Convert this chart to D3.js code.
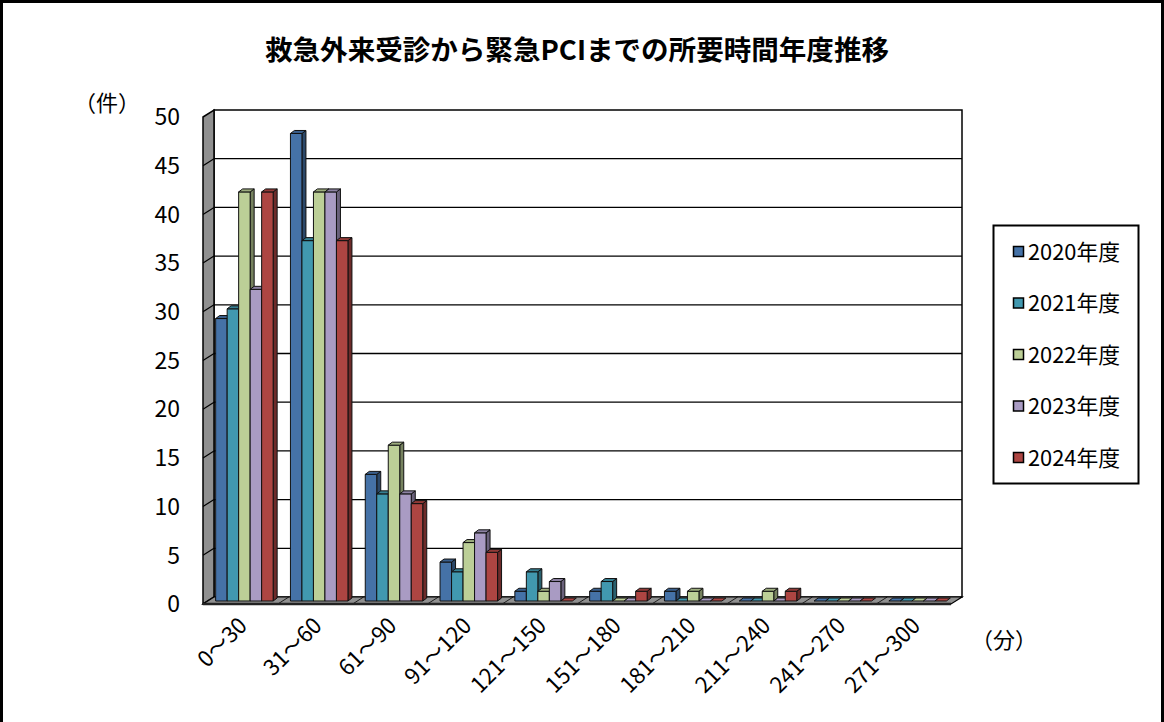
<!DOCTYPE html>
<html lang="ja">
<head>
<meta charset="utf-8">
<title>救急外来受診から緊急PCIまでの所要時間年度推移</title>
<script src="https://d3js.org/d3.v7.min.js"></script>
<style type="text/css">
body { margin: 0; background: #fff; }
svg { display: block; }
.num { font-family: "Liberation Sans Narrow", "Noto Sans CJK JP", "DejaVu Sans Condensed", sans-serif; }
.jp { font-family: "Noto Sans CJK JP", sans-serif; }
</style>
</head>
<body>
<div id="chart"></div>
<script>
// data
var categories = ["0～30", "31～60", "61～90", "91～120", "121～150", "151～180", "181～210", "211～240", "241～270", "271～300"];
var years = ["2020年度", "2021年度", "2022年度", "2023年度", "2024年度"];
var v2020 = [29, 48, 13, 4, 1, 1, 1, 0, 0, 0];
var v2021 = [30, 37, 11, 3, 3, 2, 0, 0, 0, 0];
var v2022 = [42, 42, 16, 6, 1, 0, 1, 1, 0, 0];
var v2023 = [32, 42, 11, 7, 2, 0, 0, 0, 0, 0];
var v2024 = [42, 37, 10, 5, 0, 1, 0, 1, 0, 0];
var yTicks = [0, 5, 10, 15, 20, 25, 30, 35, 40, 45, 50];

var series = [v2020, v2021, v2022, v2023, v2024];
var colors = ["#4572a7", "#4198af", "#bccf97", "#a99bc3", "#ad4542"];

var W = 1164, H = 722;
var svg = d3.select("#chart").append("svg")
  .attr("width", W).attr("height", H);

// outer frame
svg.append("rect")
  .attr("x", 1.5).attr("y", 1.5).attr("width", W - 3).attr("height", H + 10)
  .attr("fill", "none").attr("stroke", "#000").attr("stroke-width", 3);

// scales in the plane of the bar fronts
var x = d3.scaleBand().domain(categories).range([209, 957]);
var y = d3.scaleLinear().domain([0, 50]).range([601, 114]);

// depth offsets: front of the box / back wall, relative to bar plane
var fx = -6, fy = 3, bx = 5, by = -4;
var xL = x.range()[0], xR = x.range()[1];

// back wall
svg.append("rect")
  .attr("x", xL + bx).attr("y", y(50) + by)
  .attr("width", xR - xL).attr("height", y(0) - y(50))
  .attr("fill", "#fff").attr("stroke", "#000").attr("stroke-width", 1.5);

// gridlines on back wall
svg.selectAll(".grid").data(yTicks.slice(1, -1)).enter().append("line")
  .attr("x1", xL + bx).attr("x2", xR + bx)
  .attr("y1", function(d) { return y(d) + by; })
  .attr("y2", function(d) { return y(d) + by; })
  .attr("stroke", "#000").attr("stroke-width", 1.3);

// left side wall
var wall = [[xL + fx, y(50) + fy], [xL + bx, y(50) + by], [xL + bx, y(0) + by], [xL + fx, y(0) + fy]];
svg.append("polygon")
  .attr("points", wall.join(" "))
  .attr("fill", "#909090").attr("stroke", "#000").attr("stroke-width", 1.5);

svg.selectAll(".wtick").data(yTicks.slice(1, -1)).enter().append("line")
  .attr("x1", xL + fx).attr("x2", xL + bx)
  .attr("y1", function(d) { return y(d) + fy; })
  .attr("y2", function(d) { return y(d) + by; })
  .attr("stroke", "#000").attr("stroke-width", 1.2);

// floor
var floor = [[xL + fx, y(0) + fy], [xL + bx, y(0) + by], [xR + bx, y(0) + by], [xR + fx, y(0) + fy]];
svg.append("polygon")
  .attr("points", floor.join(" "))
  .attr("fill", "#909090").attr("stroke", "#000").attr("stroke-width", 1.2);

svg.selectAll(".fdiv").data(categories.slice(1)).enter().append("line")
  .attr("x1", function(d) { return x(d) + fx; })
  .attr("x2", function(d) { return x(d) + bx; })
  .attr("y1", y(0) + fy).attr("y2", y(0) + by)
  .attr("stroke", "#000").attr("stroke-width", 0.8);

svg.append("line")
  .attr("x1", xL + fx).attr("x2", xR + fx)
  .attr("y1", y(0) + fy).attr("y2", y(0) + fy)
  .attr("stroke", "#222").attr("stroke-width", 2.5);

// bars
var bw = 11.5, dx = 4, dy = -3;
var groupW = bw * series.length + dx;

function darker(c, k) { return d3.color(c).darker(k).formatHex(); }

categories.forEach(function(cat, ci) {
  var x0 = x(cat) + x.bandwidth() / 2 - groupW / 2;
  series.forEach(function(vals, si) {
    var v = vals[ci];
    var bx0 = x0 + si * bw, bx1 = bx0 + bw;
    var yt = y(v), yb = y(0);
    var g = svg.append("g").attr("stroke", "#111").attr("stroke-width", 1).attr("stroke-linejoin", "round");
    if (v > 0) {
      // side
      g.append("polygon")
        .attr("points", [[bx1, yt], [bx1 + dx, yt + dy], [bx1 + dx, yb + dy], [bx1, yb]].join(" "))
        .attr("fill", darker(colors[si], 1.3));
      // front
      g.append("rect")
        .attr("x", bx0).attr("y", yt).attr("width", bw).attr("height", yb - yt)
        .attr("fill", colors[si]);
    }
    // top
    g.append("polygon")
      .attr("points", [[bx0, yt], [bx0 + dx, yt + dy], [bx1 + dx, yt + dy], [bx1, yt]].join(" "))
      .attr("fill", v > 0 ? darker(colors[si], 0.5) : colors[si]);
  });
});

// y tick labels
svg.selectAll(".ylab").data(yTicks).enter().append("text")
  .attr("class", "num")
  .attr("x", 180)
  .attr("y", function(d) { return y(d) + fy; })
  .attr("dy", "0.36em")
  .attr("text-anchor", "end")
  .attr("font-size", 23)
  .text(function(d) { return d; });

// x tick labels
svg.selectAll(".xlab").data(categories).enter().append("text")
  .attr("class", "num")
  .attr("text-anchor", "end")
  .attr("font-size", 22)
  .attr("transform", function(d) {
    return "translate(" + (x(d) + x.bandwidth() / 2 + 2) + ",627) rotate(-45)";
  })
  .text(function(d) { return d; });

// title
svg.append("text")
  .attr("class", "jp")
  .attr("x", 577).attr("y", 60)
  .attr("text-anchor", "middle")
  .attr("font-size", 27).attr("font-weight", "bold")
  .attr("textLength", 624).attr("lengthAdjust", "spacingAndGlyphs")
  .text("救急外来受診から緊急PCIまでの所要時間年度推移");

// axis unit labels
svg.append("text").attr("class", "jp")
  .attr("x", 107).attr("y", 111).attr("text-anchor", "middle")
  .attr("font-size", 22).text("（件）");
svg.append("text").attr("class", "jp")
  .attr("x", 1004).attr("y", 648).attr("text-anchor", "middle")
  .attr("font-size", 22).text("（分）");

// legend
var legend = svg.append("g");
legend.append("rect")
  .attr("x", 993.5).attr("y", 225.5).attr("width", 145).attr("height", 258)
  .attr("fill", "#fff").attr("stroke", "#000").attr("stroke-width", 2);
var ly = d3.scalePoint().domain(years).range([252, 458]);
years.forEach(function(yr, i) {
  legend.append("rect")
    .attr("x", 1013.5).attr("y", ly(yr) - 5.5).attr("width", 10).attr("height", 10)
    .attr("fill", colors[i]).attr("stroke", "#000").attr("stroke-width", 1.5);
  legend.append("text")
    .attr("class", "num")
    .attr("x", 1028).attr("y", ly(yr)).attr("dy", "0.36em")
    .attr("font-size", 22)
    .attr("textLength", 92).attr("lengthAdjust", "spacingAndGlyphs")
    .text(yr);
});
</script>
</body>
</html>
